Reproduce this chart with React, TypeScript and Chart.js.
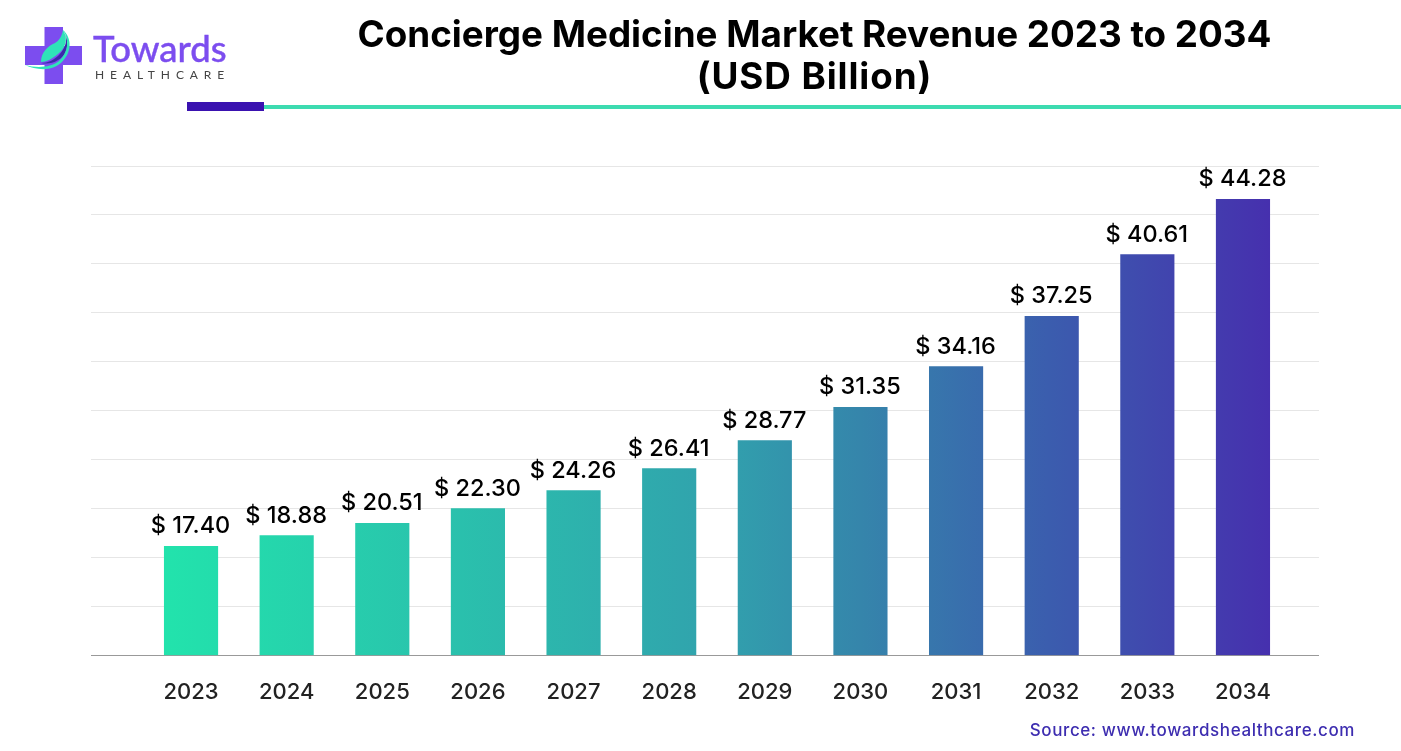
import { useEffect, useRef } from "react";
import { Chart, registerables } from "chart.js";

Chart.register(...registerables);

const years = [2023, 2024, 2025, 2026, 2027, 2028, 2029, 2030, 2031, 2032, 2033, 2034];
const revenue = ["17.40", "18.88", "20.51", "22.30", "24.26", "26.41", "28.77", "31.35", "34.16", "37.25", "40.61", "44.28"];
// the source picture does not draw bars in proportion to the printed values,
// so these are the bar heights read off in gridline units
const barHeights = [2.23, 2.45, 2.7, 3.0, 3.37, 3.82, 4.39, 5.07, 5.9, 6.93, 8.19, 9.32];
const gridSteps = 10;

const FONT = "Inter, 'Noto Sans', sans-serif";

const valueLabels = {
  id: "valueLabels",
  afterDatasetsDraw(chart: Chart) {
    const { ctx } = chart;
    const bars = chart.getDatasetMeta(0).data;
    ctx.save();
    ctx.font = `500 23.5px ${FONT}`;
    ctx.fillStyle = "#000000";
    ctx.textAlign = "center";
    ctx.textBaseline = "alphabetic";
    bars.forEach((bar, i) => {
      ctx.fillText(`$ ${revenue[i]}`, bar.x - 0.5, bar.y - 13);
    });
    ctx.restore();
  },
};

const Logo = () => (
  <svg width="210" height="70" viewBox="0 0 210 70" style={{ position: "absolute", left: 20, top: 22 }}>
    <path d="M24.5 5H43V24H62V43H43V62H24.5V43H5V24H24.5Z" fill="#7C4DEF" />
    <path d="M45 12C50 22 46 34 38 38C32 42 26 42 21 41C28 41 34 38 39 33C46 26 47 18 45 12Z" fill="#3A2AA8" />
    <path d="M43 8C47 14 48 24 38 32C32 37 26 40 21 40C21 30 28 24 35 21C39 19 42 14 43 8Z" fill="#2FE3B8" />
    <path d="M43 8C52 16 52 30 42 40C32 50 16 48 5 43C16 46 30 46 39 39C48 31 50 18 43 8Z" fill="#2FE3B8" />
    <text x="73" y="40" fontFamily="Lato, sans-serif" fontWeight="500" fontSize="36.5" fill="#7C4DEF" stroke="#7C4DEF" strokeWidth="0.4">
      Towards
    </text>
    <text x="75" y="57" fontFamily="Lato, sans-serif" fontSize="12" letterSpacing="5.9" fill="#444444">
      HEALTHCARE
    </text>
  </svg>
);

export default function App() {
  const chartRef = useRef<HTMLCanvasElement | null>(null);

  useEffect(() => {
    document.body.style.margin = "0";
    if (!chartRef.current) return;

    const chart = new Chart(chartRef.current, {
      type: "bar",
      plugins: [valueLabels],
      data: {
        datasets: [
          {
            data: years.map((year, i) => ({ x: year, y: barHeights[i] })),
            barThickness: 53.5,
            backgroundColor: (context: any) => {
              const { ctx, chartArea } = context.chart;
              if (!chartArea) return "#22E3AC";
              const gradient = ctx.createLinearGradient(164, 0, 1270, 0);
              gradient.addColorStop(0, "#22E3AC");
              gradient.addColorStop(0.5, "#31A2AD");
              gradient.addColorStop(0.63, "#3585AB");
              gradient.addColorStop(0.8, "#3B5DAE");
              gradient.addColorStop(1, "#4630AE");
              return gradient;
            },
          },
        ],
      },
      options: {
        responsive: false,
        animation: false,
        layout: { padding: { left: 91, right: 82, top: 166, bottom: 0 } },
        plugins: {
          legend: { display: false },
          title: { display: false },
          tooltip: { enabled: false },
        },
        scales: {
          x: {
            type: "linear",
            offset: false,
            min: 2021.954,
            max: 2034.795,
            grid: { display: false },
            border: { display: false },
            afterFit: (scale: any) => {
              scale.height = 95.5;
            },
            afterBuildTicks: (scale: any) => {
              scale.ticks = years.map((value) => ({ value }));
            },
            ticks: {
              autoSkip: false,
              maxRotation: 0,
              padding: 16,
              color: "#222222",
              font: { family: FONT, size: 22, weight: 500 },
              callback: (value: any) => String(value),
            },
          },
          y: {
            min: 0,
            max: gridSteps,
            afterFit: (scale: any) => {
              scale.width = 0;
            },
            border: { display: false },
            grid: {
              drawTicks: false,
              lineWidth: 1,
              color: (context: any) => (context.tick.value === 0 ? "#999999" : "#E6E6E6"),
            },
            ticks: { stepSize: 1, display: false },
          },
        },
      },
    });

    return () => {
      chart.destroy();
    };
  }, []);

  return (
    <div style={{ position: "relative", width: 1401, height: 751, background: "#ffffff", overflow: "hidden" }}>
      <canvas ref={chartRef} width={1401} height={751} style={{ position: "absolute", left: 0, top: 0 }} />
      <Logo />
      <div
        style={{
          position: "absolute",
          left: 264,
          width: 1101,
          top: 13,
          textAlign: "center",
          fontFamily: FONT,
          fontWeight: 700,
          fontSize: 36.8,
          lineHeight: "42px",
          color: "#000000",
        }}
      >
        Concierge Medicine Market Revenue 2023 to 2034
        <br />
        <span style={{ letterSpacing: 0.9 }}>(USD Billion)</span>
      </div>
      <div style={{ position: "absolute", left: 264, right: 0, top: 105, height: 4, background: "#3DDBB0" }} />
      <div style={{ position: "absolute", left: 187, width: 77, top: 102, height: 9, background: "#3A12B0" }} />
      <div
        style={{
          position: "absolute",
          right: 46,
          top: 720,
          fontFamily: FONT,
          fontWeight: 500,
          fontSize: 17,
          lineHeight: "20px",
          letterSpacing: 0.6,
          color: "#3D2DB0",
        }}
      >
        Source: www.towardshealthcare.com
      </div>
    </div>
  );
}
